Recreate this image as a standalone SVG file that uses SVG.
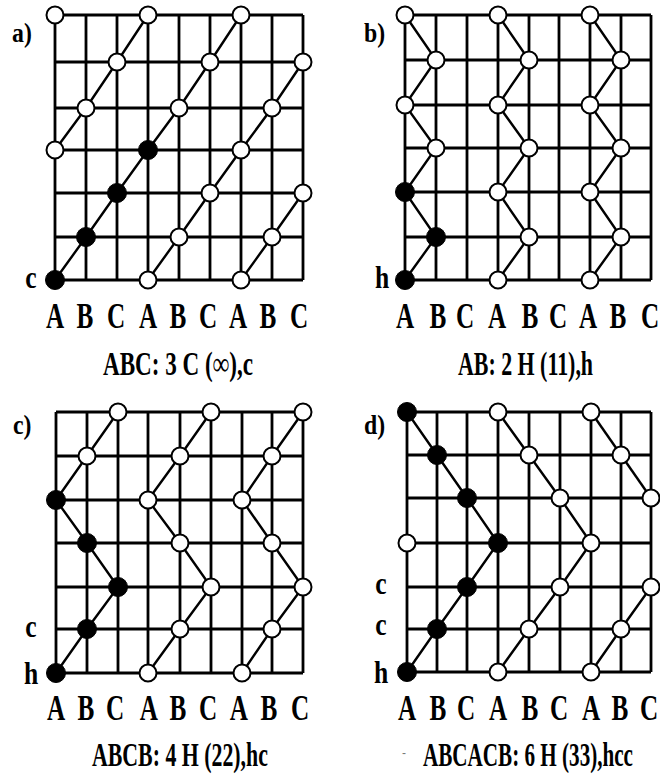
<svg xmlns="http://www.w3.org/2000/svg" width="660" height="776" viewBox="0 0 660 776">
<style>
.g{fill:none;stroke:#000;stroke-width:2.8}
.d{fill:none;stroke:#000;stroke-width:2.4}
.w{fill:#fff;stroke:#000;stroke-width:2}
.b{fill:#000;stroke:#000;stroke-width:1}
.t{font-family:"Liberation Serif",serif;font-weight:bold;fill:#000}
.L{font-size:35px;text-anchor:middle}
.C{font-size:34px}
.P{font-size:28px}
.S{font-size:32px;text-anchor:middle}
</style>
<rect width="660" height="776" fill="#fff"/>
<g id="grids">
<path class="g" d="M55 15V280M86 15V280M117 15V280M148 15V280M179 15V280M210 15V280M241 15V280M272 15V280M303 15V280M55 15H303M55 62H303M55 108H303M55 150H303M55 193H303M55 237H303M55 280H303"/>
<path class="g" d="M405 15V280M436 15V280M467 15V280M498 15V280M529 15V280M559 15V280M590 15V280M621 15V280M651 15V280M405 15H651M405 60H651M405 105H651M405 148H651M405 192H651M405 237H651M405 280H651"/>
<path class="g" d="M56 412V673M87 412V673M118 412V673M148 412V673M180 412V673M211 412V673M242 412V673M272 412V673M303 412V673M56 412H303M56 456H303M56 500H303M56 543H303M56 587H303M56 629H303M56 673H303"/>
<path class="g" d="M407 412V672M437 412V672M467 412V672M498 412V672M529 412V672M560 412V672M591 412V672M621 412V672M651 412V672M407 412H651M407 455H651M407 498H651M407 543H651M407 587H651M407 629H651M407 672H651"/>
</g>
<g id="connectors">
<polyline class="d" points="55,280 86,237 117,193 148,150 179,108 210,62 241,15"/>
<polyline class="d" points="148,280 179,237 210,193 241,150 272,108 303,62"/>
<polyline class="d" points="241,280 272,237 303,193"/>
<polyline class="d" points="55,150 86,108 117,62 148,15"/>
<polyline class="d" points="405,280 436,237 405,192 436,148 405,105 436,60 405,15"/>
<polyline class="d" points="498,280 529,237 498,192 529,148 498,105 529,60 498,15"/>
<polyline class="d" points="590,280 621,237 590,192 621,148 590,105 621,60 590,15"/>
<polyline class="d" points="56,673 87,629 118,587 87,543 56,500 87,456 118,412"/>
<polyline class="d" points="148,673 180,629 211,587 180,543 148,500 180,456 211,412"/>
<polyline class="d" points="242,673 272,629 303,587 272,543 242,500 272,456 303,412"/>
<polyline class="d" points="407,672 437,629 467,587 498,543 467,498 437,455 407,412"/>
<polyline class="d" points="498,672 529,629 560,587 591,543 560,498 529,455 498,412"/>
<polyline class="d" points="591,672 621,629 651,587"/>
<polyline class="d" points="651,498 621,455 591,412"/>
</g>
<g id="panel-a-nodes">
<g id="a-r0c0"><circle class="w" cx="55" cy="15" r="8.5"/></g>
<g id="a-r0c3"><circle class="w" cx="148" cy="15" r="8.5"/></g>
<g id="a-r0c6"><circle class="w" cx="241" cy="15" r="8.5"/></g>
<g id="a-r1c2"><circle class="w" cx="117" cy="62" r="8.5"/></g>
<g id="a-r1c5"><circle class="w" cx="210" cy="62" r="8.5"/></g>
<g id="a-r1c8"><circle class="w" cx="303" cy="62" r="8.5"/></g>
<g id="a-r2c1"><circle class="w" cx="86" cy="108" r="8.5"/></g>
<g id="a-r2c4"><circle class="w" cx="179" cy="108" r="8.5"/></g>
<g id="a-r2c7"><circle class="w" cx="272" cy="108" r="8.5"/></g>
<g id="a-r3c0"><circle class="w" cx="55" cy="150" r="8.5"/></g>
<g id="a-r3c3"><circle class="b" cx="148" cy="150" r="9.5"/></g>
<g id="a-r3c6"><circle class="w" cx="241" cy="150" r="8.5"/></g>
<g id="a-r4c2"><circle class="b" cx="117" cy="193" r="9.5"/></g>
<g id="a-r4c5"><circle class="w" cx="210" cy="193" r="8.5"/></g>
<g id="a-r4c8"><circle class="w" cx="303" cy="193" r="8.5"/></g>
<g id="a-r5c1"><circle class="b" cx="86" cy="237" r="9.5"/></g>
<g id="a-r5c4"><circle class="w" cx="179" cy="237" r="8.5"/></g>
<g id="a-r5c7"><circle class="w" cx="272" cy="237" r="8.5"/></g>
<g id="a-r6c0"><circle class="b" cx="55" cy="280" r="9.5"/></g>
<g id="a-r6c3"><circle class="w" cx="148" cy="280" r="8.5"/></g>
<g id="a-r6c6"><circle class="w" cx="241" cy="280" r="8.5"/></g>
</g>
<g id="panel-b-nodes">
<g id="b-r0c0"><circle class="w" cx="405" cy="15" r="8.5"/></g>
<g id="b-r0c3"><circle class="w" cx="498" cy="15" r="8.5"/></g>
<g id="b-r0c6"><circle class="w" cx="590" cy="15" r="8.5"/></g>
<g id="b-r1c1"><circle class="w" cx="436" cy="60" r="8.5"/></g>
<g id="b-r1c4"><circle class="w" cx="529" cy="60" r="8.5"/></g>
<g id="b-r1c7"><circle class="w" cx="621" cy="60" r="8.5"/></g>
<g id="b-r2c0"><circle class="w" cx="405" cy="105" r="8.5"/></g>
<g id="b-r2c3"><circle class="w" cx="498" cy="105" r="8.5"/></g>
<g id="b-r2c6"><circle class="w" cx="590" cy="105" r="8.5"/></g>
<g id="b-r3c1"><circle class="w" cx="436" cy="148" r="8.5"/></g>
<g id="b-r3c4"><circle class="w" cx="529" cy="148" r="8.5"/></g>
<g id="b-r3c7"><circle class="w" cx="621" cy="148" r="8.5"/></g>
<g id="b-r4c0"><circle class="b" cx="405" cy="192" r="9.5"/></g>
<g id="b-r4c3"><circle class="w" cx="498" cy="192" r="8.5"/></g>
<g id="b-r4c6"><circle class="w" cx="590" cy="192" r="8.5"/></g>
<g id="b-r5c1"><circle class="b" cx="436" cy="237" r="9.5"/></g>
<g id="b-r5c4"><circle class="w" cx="529" cy="237" r="8.5"/></g>
<g id="b-r5c7"><circle class="w" cx="621" cy="237" r="8.5"/></g>
<g id="b-r6c0"><circle class="b" cx="405" cy="280" r="9.5"/></g>
<g id="b-r6c3"><circle class="w" cx="498" cy="280" r="8.5"/></g>
<g id="b-r6c6"><circle class="w" cx="590" cy="280" r="8.5"/></g>
</g>
<g id="panel-c-nodes">
<g id="c-r0c2"><circle class="w" cx="118" cy="412" r="8.5"/></g>
<g id="c-r0c5"><circle class="w" cx="211" cy="412" r="8.5"/></g>
<g id="c-r0c8"><circle class="w" cx="303" cy="412" r="8.5"/></g>
<g id="c-r1c1"><circle class="w" cx="87" cy="456" r="8.5"/></g>
<g id="c-r1c4"><circle class="w" cx="180" cy="456" r="8.5"/></g>
<g id="c-r1c7"><circle class="w" cx="272" cy="456" r="8.5"/></g>
<g id="c-r2c0"><circle class="b" cx="56" cy="500" r="9.5"/></g>
<g id="c-r2c3"><circle class="w" cx="148" cy="500" r="8.5"/></g>
<g id="c-r2c6"><circle class="w" cx="242" cy="500" r="8.5"/></g>
<g id="c-r3c1"><circle class="b" cx="87" cy="543" r="9.5"/></g>
<g id="c-r3c4"><circle class="w" cx="180" cy="543" r="8.5"/></g>
<g id="c-r3c7"><circle class="w" cx="272" cy="543" r="8.5"/></g>
<g id="c-r4c2"><circle class="b" cx="118" cy="587" r="9.5"/></g>
<g id="c-r4c5"><circle class="w" cx="211" cy="587" r="8.5"/></g>
<g id="c-r4c8"><circle class="w" cx="303" cy="587" r="8.5"/></g>
<g id="c-r5c1"><circle class="b" cx="87" cy="629" r="9.5"/></g>
<g id="c-r5c4"><circle class="w" cx="180" cy="629" r="8.5"/></g>
<g id="c-r5c7"><circle class="w" cx="272" cy="629" r="8.5"/></g>
<g id="c-r6c0"><circle class="b" cx="56" cy="673" r="9.5"/></g>
<g id="c-r6c3"><circle class="w" cx="148" cy="673" r="8.5"/></g>
<g id="c-r6c6"><circle class="w" cx="242" cy="673" r="8.5"/></g>
</g>
<g id="panel-d-nodes">
<g id="d-r0c0"><circle class="b" cx="407" cy="412" r="9.5"/></g>
<g id="d-r0c3"><circle class="w" cx="498" cy="412" r="8.5"/></g>
<g id="d-r0c6"><circle class="w" cx="591" cy="412" r="8.5"/></g>
<g id="d-r1c1"><circle class="b" cx="437" cy="455" r="9.5"/></g>
<g id="d-r1c4"><circle class="w" cx="529" cy="455" r="8.5"/></g>
<g id="d-r1c7"><circle class="w" cx="621" cy="455" r="8.5"/></g>
<g id="d-r2c2"><circle class="b" cx="467" cy="498" r="9.5"/></g>
<g id="d-r2c5"><circle class="w" cx="560" cy="498" r="8.5"/></g>
<g id="d-r2c8"><circle class="w" cx="651" cy="498" r="8.5"/></g>
<g id="d-r3c0"><circle class="w" cx="407" cy="543" r="8.5"/></g>
<g id="d-r3c3"><circle class="b" cx="498" cy="543" r="9.5"/></g>
<g id="d-r3c6"><circle class="w" cx="591" cy="543" r="8.5"/></g>
<g id="d-r4c2"><circle class="b" cx="467" cy="587" r="9.5"/></g>
<g id="d-r4c5"><circle class="w" cx="560" cy="587" r="8.5"/></g>
<g id="d-r4c8"><circle class="w" cx="651" cy="587" r="8.5"/></g>
<g id="d-r5c1"><circle class="b" cx="437" cy="629" r="9.5"/></g>
<g id="d-r5c4"><circle class="w" cx="529" cy="629" r="8.5"/></g>
<g id="d-r5c7"><circle class="w" cx="621" cy="629" r="8.5"/></g>
<g id="d-r6c0"><circle class="b" cx="407" cy="672" r="9.5"/></g>
<g id="d-r6c3"><circle class="w" cx="498" cy="672" r="8.5"/></g>
<g id="d-r6c6"><circle class="w" cx="591" cy="672" r="8.5"/></g>
</g>
<g id="labels">
<text class="t P" transform="translate(12 42) scale(0.85 1)">a)</text>
<text class="t P" transform="translate(364 42) scale(0.85 1)">b)</text>
<text class="t P" transform="translate(13 434) scale(0.85 1)">c)</text>
<text class="t P" transform="translate(364 434) scale(0.85 1)">d)</text>
<text class="t S" transform="translate(31 288) scale(0.8 1)">c</text>
<text class="t S" transform="translate(382 288) scale(0.8 1)">h</text>
<text class="t S" transform="translate(31 637) scale(0.8 1)">c</text>
<text class="t S" transform="translate(31 684) scale(0.8 1)">h</text>
<text class="t S" transform="translate(381 594) scale(0.8 1)">c</text>
<text class="t S" transform="translate(381 635) scale(0.8 1)">c</text>
<text class="t S" transform="translate(381 683) scale(0.8 1)">h</text>
<g transform="scale(0.72 1)">
<text class="t L" x="76.4 118.1 161.1 205.6 247.2 288.9 330.6 372.2 415.3" y="328">ABCABCABC</text>
<text class="t L" x="562.5 608.3 645.8 690.3 736.1 775 816.7 858.3 902.8" y="328">ABCABCABC</text>
<text class="t L" x="77.8 119.4 159.7 206.9 247.2 288.9 331.9 373.6 416.7" y="720">ABCABCABC</text>
<text class="t L" x="565.3 608.3 647.2 691.7 736.1 776.4 820.8 861.1 901.4" y="720">ABCABCABC</text>
</g>
<text class="t C" transform="translate(103 375) scale(0.68 1)" textLength="220.6" lengthAdjust="spacingAndGlyphs">ABC: 3 C (∞),c</text>
<text class="t C" transform="translate(458 375) scale(0.64 1)" textLength="211" lengthAdjust="spacingAndGlyphs">AB: 2 H (11),h</text>
<text class="t C" transform="translate(92 766) scale(0.642 1)" textLength="274" lengthAdjust="spacingAndGlyphs">ABCB: 4 H (22),hc</text>
<text class="t C" transform="translate(423 766) scale(0.62 1)" textLength="338.7" lengthAdjust="spacingAndGlyphs">ABCACB: 6 H (33),hcc</text>
<text x="402" y="757" style="font-family:'Liberation Sans',sans-serif;font-size:12px;fill:#777">-</text>
</g>
</svg>
